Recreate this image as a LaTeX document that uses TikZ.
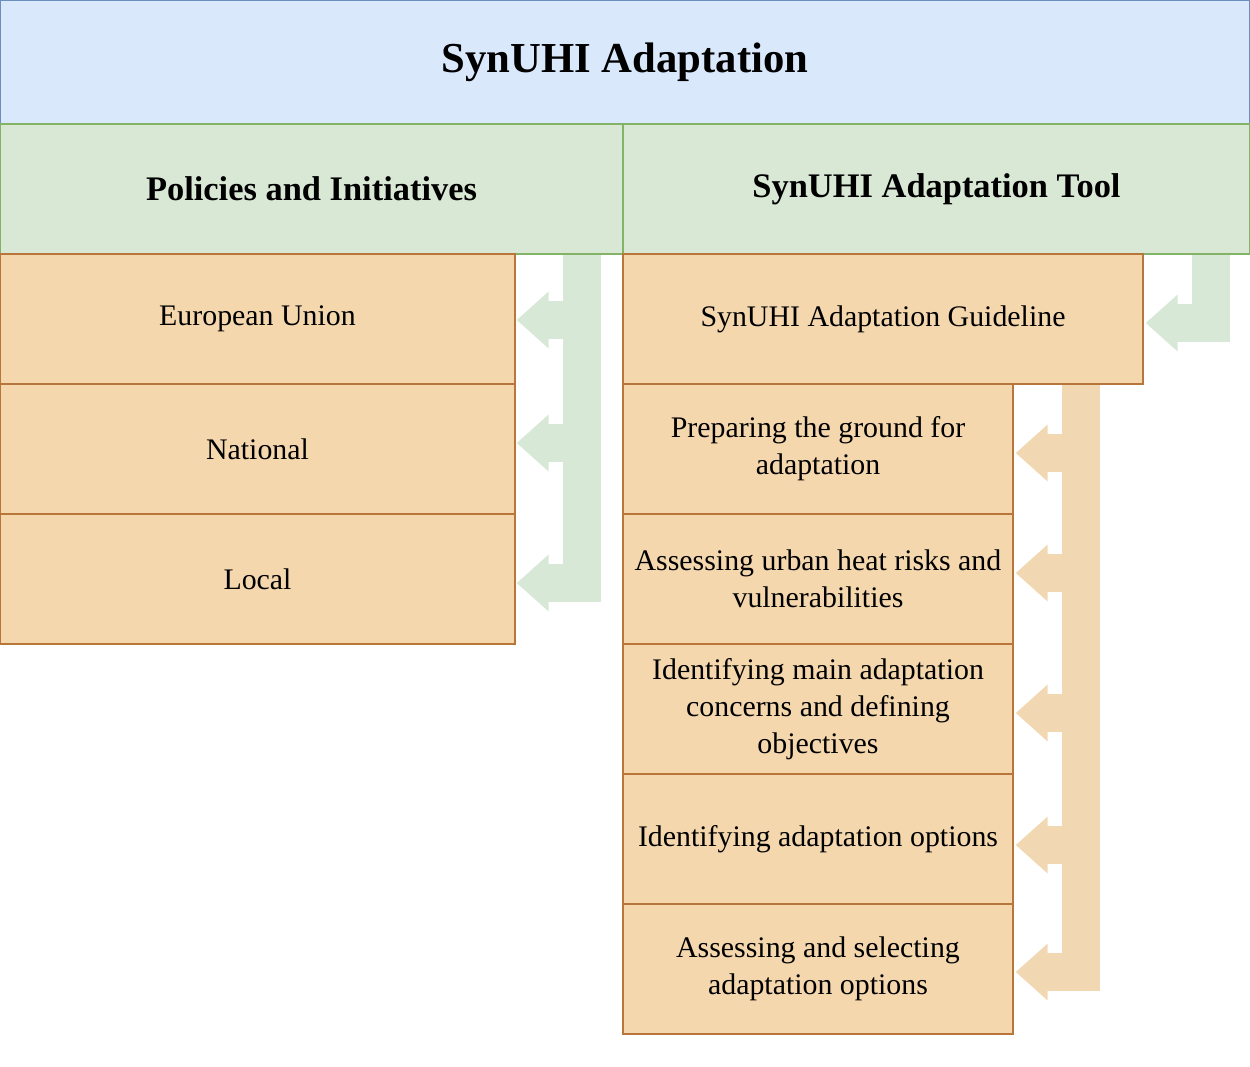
\documentclass[tikz,border=0pt]{standalone}
\usepackage{fontspec}
\setmainfont{Liberation Serif}
\usetikzlibrary{arrows.meta,calc,backgrounds}
\definecolor{bluefill}{HTML}{DAE8FC}
\definecolor{blueline}{HTML}{6C8EBF}
\definecolor{greenfill}{HTML}{D9E8D5}
\definecolor{greenline}{HTML}{82B366}
\definecolor{orangefill}{HTML}{F5D7AE}
\definecolor{orangeline}{HTML}{B8763A}
\definecolor{garrowcol}{HTML}{D8E8D6}
\definecolor{oarrowcol}{HTML}{F2D8B2}
\begin{document}
\begin{tikzpicture}[x=0.02cm,y=-0.02cm,
  titlebox/.style={draw=blueline, fill=bluefill, line width=0.8pt, minimum width=25cm, minimum height=2.48cm, inner sep=0pt,
    font=\fontsize{24.3}{29}\selectfont\bfseries},
  headbox/.style={draw=greenline, fill=greenfill, line width=0.8pt, minimum height=2.6cm, inner sep=0pt,
    font=\fontsize{19.6}{24}\selectfont\bfseries},
  obox/.style={draw=orangeline, fill=orangefill, line width=0.8pt, minimum height=2.6cm, inner sep=0pt, align=center,
    font=\fontsize{17}{21}\selectfont},
  garrow/.style={draw=garrowcol, line width=0.76cm, line join=miter, -{Triangle[length=0.64cm,width=1.1cm]}},
  oarrow/.style={draw=oarrowcol, line width=0.76cm, line join=miter, -{Triangle[length=0.64cm,width=1.1cm]}}
]
\useasboundingbox (0,0) rectangle (1250,1066);

\node[titlebox] (title) at (625,62) {SynUHI Adaptation};
\node[headbox, minimum width=12.46cm] (pol) at (311.5,189) {Policies and Initiatives};
\node[headbox, minimum width=12.54cm] (tool) at (936.5,189) {SynUHI Adaptation Tool};

\node[obox, minimum width=10.3cm] (eu) at (257.5,319) {European Union};
\node[obox, minimum width=10.3cm] (nat) at (257.5,449) {National};
\node[obox, minimum width=10.3cm] (loc) at (257.5,579) {Local};

\node[obox, minimum width=10.4cm] (guide) at (883,319) {SynUHI Adaptation Guideline};
\node[obox, minimum width=7.8cm] (s1) at (818,449) {Preparing the ground for\\adaptation};
\node[obox, minimum width=7.8cm] (s2) at (818,579) {Assessing urban heat risks and\\vulnerabilities};
\node[obox, minimum width=7.8cm] (s3) at (818,709) {Identifying main adaptation\\concerns and defining\\objectives};
\node[obox, minimum width=7.8cm] (s4) at (818,839) {Identifying adaptation options};
\node[obox, minimum width=7.8cm] (s5) at (818,969) {Assessing and selecting\\adaptation options};

\coordinate (gl) at ($(pol.south west)+(583,0)$);
\coordinate (gr) at ($(tool.south west)+(589,0)$);
\coordinate (ob) at ($(guide.south west)+(459,0)$);

\begin{scope}[on background layer]
\draw[garrow] (gl) |- ($(eu.east)+(1,1)$);
\draw[garrow] (gl) |- ($(nat.east)+(1,-6)$);
\draw[garrow] (gl) |- ($(loc.east)+(1,4)$);
\draw[garrow] (gr) |- ($(guide.east)+(2,4)$);
\draw[oarrow] (ob) |- ($(s1.east)+(2,4)$);
\draw[oarrow] (ob) |- ($(s2.east)+(2,-6)$);
\draw[oarrow] (ob) |- ($(s3.east)+(2,4)$);
\draw[oarrow] (ob) |- ($(s4.east)+(2,6)$);
\draw[oarrow] (ob) |- ($(s5.east)+(2,3)$);
\end{scope}
\end{tikzpicture}
\end{document}
